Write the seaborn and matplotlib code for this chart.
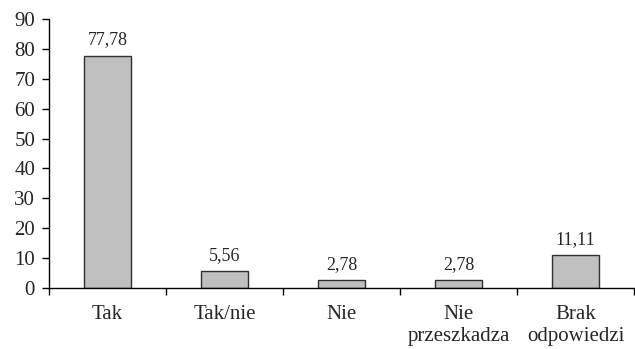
import matplotlib
matplotlib.use('Agg')
import matplotlib.pyplot as plt
import seaborn as sns
import pandas as pd

# data
categories = ['Tak', 'Tak/nie', 'Nie', 'Nie\nprzeszkadza', 'Brak\nodpowiedzi']
values = [77.78, 5.56, 2.78, 2.78, 11.11]
value_labels = ['77,78', '5,56', '2,78', '2,78', '11,11']

sns.set_style('white')
plt.rcParams['font.family'] = ['Liberation Serif', 'DejaVu Serif']

df = pd.DataFrame({'cat': categories, 'val': values})

fig = plt.figure(figsize=(6.35, 3.49), dpi=100)
ax = fig.add_axes([49/635, 61/349, 585/635, 269/349])

sns.barplot(data=df, x='cat', y='val', color='#C0C0C0', edgecolor='#303030',
            linewidth=1, width=0.4, saturation=1, ax=ax)

for p, lab in zip(ax.patches, value_labels):
    ax.annotate(lab, (p.get_x() + p.get_width() / 2, p.get_height()),
                xytext=(0, 5), textcoords='offset points',
                ha='center', va='bottom', fontsize=13)

ax.set_xlim(-0.5, 4.5)
ax.set_ylim(0, 90)
ax.set_yticks(range(0, 91, 10))
ax.set_xlabel('')
ax.set_ylabel('')

# Excel-style ticks between categories
ax.set_xticks([i - 0.5 for i in range(6)], minor=True)
ax.tick_params(axis='x', which='major', bottom=True, length=0, pad=12, labelsize=15)
ax.tick_params(axis='x', which='minor', bottom=True, length=5, width=1, color='black', direction='out')
ax.tick_params(axis='y', left=True, length=5, width=1, color='black', direction='out', labelsize=15, pad=5)
ax.set_xticks(range(len(categories)))
ax.set_xticklabels(categories, linespacing=1.25)

sns.despine(ax=ax, top=True, right=True)
for s in ['left', 'bottom']:
    ax.spines[s].set_color('black')
    ax.spines[s].set_linewidth(1)

fig.savefig('out.png', dpi=100)
